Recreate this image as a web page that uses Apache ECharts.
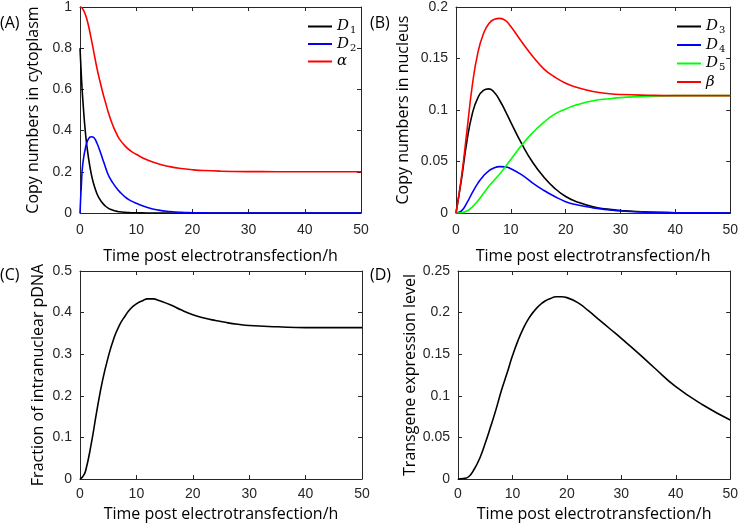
<!DOCTYPE html>
<html>
<head>
<meta charset="utf-8">
<script src="https://cdn.jsdelivr.net/npm/echarts@6/dist/echarts.min.js"></script>
<style>
html, body { margin: 0; background: #fff; }
#chart { width: 741px; height: 528px; }
</style>
</head>
<body>
<div id="chart"></div>
<script>
// panel A: cytoplasm
var timeA  = [0, 0.25, 0.5, 1, 1.5, 2, 2.5, 3, 3.5, 4, 4.5, 5, 5.5, 6, 6.5, 7, 8, 9, 10, 12, 14, 16, 18, 20, 22, 25, 30, 35, 40, 45, 50];
var d1     = [0.8, 0.66, 0.55, 0.38, 0.27, 0.19, 0.135, 0.095, 0.068, 0.048, 0.034, 0.024, 0.017, 0.012, 0.009, 0.006, 0.003, 0.0015, 0.001, 0, 0, 0, 0, 0, 0, 0, 0, 0, 0, 0, 0];
var d2     = [0, 0.14, 0.24, 0.32, 0.36, 0.37, 0.365, 0.34, 0.305, 0.265, 0.225, 0.187, 0.161, 0.14, 0.121, 0.105, 0.078, 0.06, 0.047, 0.027, 0.014, 0.007, 0.003, 0.0015, 0.0007, 0, 0, 0, 0, 0, 0];
var alpha  = [1.0, 0.998, 0.99, 0.96, 0.91, 0.845, 0.775, 0.705, 0.645, 0.59, 0.54, 0.492, 0.45, 0.415, 0.385, 0.36, 0.326, 0.302, 0.285, 0.257, 0.238, 0.225, 0.216, 0.21, 0.206, 0.203, 0.201, 0.2005, 0.2, 0.2, 0.2];

// panel B: nucleus
var timeB  = [0, 1, 2, 3, 4, 5, 6, 7, 8, 9, 10, 12, 14, 16, 18, 20, 22, 25, 28, 30, 35, 40, 45, 50];
var d3     = [0, 0.033, 0.07, 0.097, 0.112, 0.119, 0.1205, 0.117, 0.109, 0.099, 0.088, 0.067, 0.049, 0.035, 0.024, 0.016, 0.011, 0.006, 0.0035, 0.0025, 0.001, 0.0003, 0, 0];
var d4     = [0, 0.002, 0.01, 0.02, 0.029, 0.036, 0.041, 0.044, 0.045, 0.0448, 0.043, 0.037, 0.029, 0.022, 0.016, 0.011, 0.008, 0.005, 0.003, 0.002, 0.0008, 0.0003, 0.0001, 0];
var d5     = [0, 0.0003, 0.002, 0.006, 0.012, 0.019, 0.026, 0.032, 0.038, 0.045, 0.052, 0.066, 0.078, 0.088, 0.096, 0.101, 0.105, 0.109, 0.111, 0.112, 0.1135, 0.114, 0.114, 0.114];
var beta   = [0, 0.035, 0.08, 0.125, 0.156, 0.174, 0.184, 0.188, 0.189, 0.187, 0.181, 0.166, 0.152, 0.14, 0.132, 0.126, 0.122, 0.118, 0.1158, 0.115, 0.1143, 0.114, 0.114, 0.114];

// panel C: fraction of intranuclear pDNA
var timeC  = [0, 0.5, 1, 2, 3, 4, 5, 6, 7, 8, 9, 10, 11, 12, 13, 14, 16, 18, 20, 22, 24, 26, 28, 30, 35, 40, 45, 50];
var frac   = [0, 0.006, 0.02, 0.085, 0.165, 0.237, 0.293, 0.338, 0.37, 0.392, 0.41, 0.421, 0.428, 0.433, 0.433, 0.429, 0.419, 0.406, 0.395, 0.387, 0.381, 0.376, 0.372, 0.369, 0.366, 0.364, 0.364, 0.364];

// panel D: transgene expression
var timeD  = [0, 1, 2, 3, 4, 5, 6, 7, 8, 9, 10, 11, 12, 13, 14, 15, 16, 17, 18, 19, 20, 22, 24, 26, 28, 30, 33, 36, 40, 45, 50];
var expr   = [0, 0.0005, 0.003, 0.012, 0.025, 0.043, 0.063, 0.084, 0.107, 0.127, 0.148, 0.166, 0.181, 0.193, 0.202, 0.209, 0.214, 0.217, 0.219, 0.219, 0.218, 0.212, 0.202, 0.191, 0.18, 0.169, 0.152, 0.134, 0.111, 0.089, 0.071];

var xTitle = 'Time post electrotransfection/h';
var axisColor = '#262626';
var titleFont = '"Open Sans", "DejaVu Sans", sans-serif';

function pairs(t, v) {
    return t.map(function (x, i) { return [x, v[i]]; });
}

var grids = [
    {left: 80, top: 6, width: 281, height: 207},
    {left: 456, top: 6, width: 275, height: 207},
    {left: 80, top: 271, width: 282, height: 208},
    {left: 458, top: 271, width: 274, height: 208}
];
var yMax = [1, 0.2, 0.5, 0.25];
var yStep = [0.2, 0.05, 0.1, 0.05];
var yNames = ['Copy numbers in cytoplasm', 'Copy numbers in nucleus', 'Fraction of intranuclear pDNA', 'Transgene expression level'];
var yGaps = [39, 45, 34, 39];
var xGaps = [35, 35, 27, 27];
var xMargins = [10, 10, 8, 8];

var xAxes = [], yAxes = [];
grids.forEach(function (g, i) {
    ['bottom', 'top'].forEach(function (pos) {
        xAxes.push({
            type: 'value', gridIndex: i, position: pos, min: 0, max: 50, interval: 10,
            axisLine: {show: true, onZero: false, lineStyle: {color: axisColor, width: 1}},
            axisTick: {show: true, inside: true, length: 4, lineStyle: {color: axisColor}},
            axisLabel: {show: pos === 'bottom', margin: xMargins[i], color: axisColor, fontSize: 14, fontFamily: 'Liberation Sans'},
            splitLine: {show: false},
            name: pos === 'bottom' ? xTitle : '',
            nameLocation: 'middle', nameGap: xGaps[i],
            nameTextStyle: {color: '#000', fontSize: 16, fontFamily: titleFont}
        });
    });
    ['left', 'right'].forEach(function (pos) {
        yAxes.push({
            type: 'value', gridIndex: i, position: pos, min: 0, max: yMax[i], interval: yStep[i],
            axisLine: {show: true, onZero: false, lineStyle: {color: axisColor, width: 1}},
            axisTick: {show: true, inside: true, length: 4, lineStyle: {color: axisColor}},
            axisLabel: {show: pos === 'left', margin: 8, color: axisColor, fontSize: 14, fontFamily: 'Liberation Sans'},
            splitLine: {show: false},
            name: pos === 'left' ? yNames[i] : '',
            nameLocation: 'middle', nameGap: yGaps[i],
            nameTextStyle: {color: '#000', fontSize: 16, fontFamily: titleFont}
        });
    });
});

function line(name, t, v, color, panel) {
    return {
        name: name, type: 'line', xAxisIndex: panel * 2, yAxisIndex: panel * 2,
        data: pairs(t, v), symbol: 'none', smooth: 0.5,
        lineStyle: {color: color, width: 1.6}, itemStyle: {color: color},
        silent: true, animation: false
    };
}

var legendRich = {
    v: {fontFamily: 'DejaVu Serif', fontStyle: 'italic', fontSize: 15, color: '#000', lineHeight: 18},
    sub: {fontFamily: 'DejaVu Serif', fontSize: 10, color: '#000', verticalAlign: 'bottom', padding: [7, 0, 0, 1]}
};
function legendFmt(name) {
    if (name.charAt(0) === 'D') return '{v|D}{sub|' + name.slice(1) + '}';
    return '{v|' + name + '}';
}

var panelLabels = [['(A)', 0, 15], ['(B)', 370, 15], ['(C)', 0, 267], ['(D)', 370, 267]];

var chart = echarts.init(document.getElementById('chart'));
chart.setOption({
    backgroundColor: '#fff',
    animation: false,
    grid: grids,
    xAxis: xAxes,
    yAxis: yAxes,
    legend: [
        {data: ['D1', 'D2', 'α'], orient: 'vertical', left: 303, top: 14, icon: 'rect', itemWidth: 24, itemHeight: 2, itemGap: 1,
         formatter: legendFmt, textStyle: {rich: legendRich}},
        {data: ['D3', 'D4', 'D5', 'β'], orient: 'vertical', left: 672, top: 14, icon: 'rect', itemWidth: 24, itemHeight: 2, itemGap: 2,
         formatter: legendFmt, textStyle: {rich: legendRich}}
    ],
    graphic: panelLabels.map(function (p) {
        return {type: 'text', left: p[1], top: p[2],
                style: {text: p[0], fontSize: 16, fontFamily: titleFont, fill: '#000'}};
    }),
    series: [
        line('D1', timeA, d1, '#000000', 0),
        line('D2', timeA, d2, '#0000ff', 0),
        line('α', timeA, alpha, '#ff0000', 0),
        line('D3', timeB, d3, '#000000', 1),
        line('D4', timeB, d4, '#0000ff', 1),
        line('D5', timeB, d5, '#00ff00', 1),
        line('β', timeB, beta, '#ff0000', 1),
        line('frac', timeC, frac, '#000000', 2),
        line('expr', timeD, expr, '#000000', 3)
    ]
});
</script>
</body>
</html>
